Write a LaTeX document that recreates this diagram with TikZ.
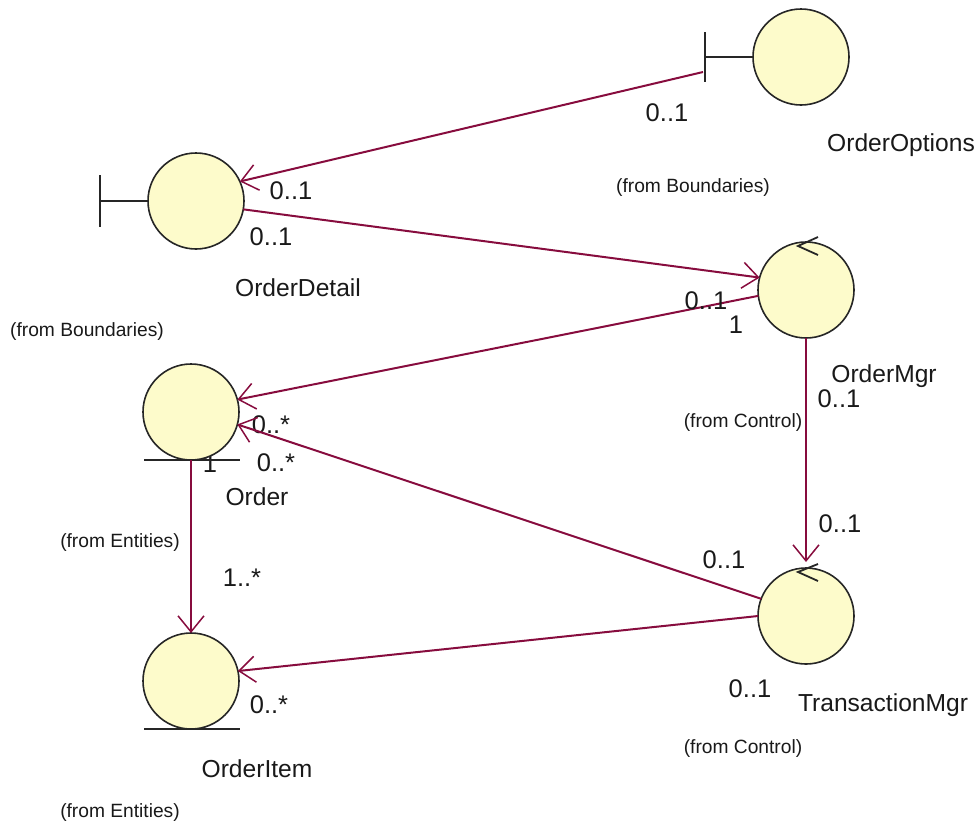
\documentclass[tikz,border=0pt]{standalone}
\usepackage{fontspec}
\setmainfont{Liberation Sans}
\usetikzlibrary{arrows.meta}
\pgfdeclarelayer{back}
\pgfsetlayers{back,main}
\definecolor{linkred}{RGB}{135,12,62}
\definecolor{bubble}{RGB}{253,251,203}
\tikzstyle{bubblenode} = [draw=black!85, fill=bubble, circle, line width=1.6pt,
    inner sep=0pt, outer sep=0pt, minimum size=96pt]
\tikzstyle{stem} = [draw=black!85, line width=1.8pt]
\tikzstyle{link} = [draw=linkred, line width=2pt]
\tikzstyle{navlink} = [link, -{Straight Barb[length=16pt,width=26pt,line width=1.5pt]}]
\tikzstyle{classname} = [font=\fontsize{24.6}{25}\selectfont, text=black!90, inner sep=0pt, yshift=-2pt]
\tikzstyle{mult} = [font=\fontsize{25.5}{25}\selectfont, text=black!90, inner sep=0pt, yshift=-1pt]
\tikzstyle{fromlabel} = [font=\fontsize{19.2}{19}\selectfont, text=black!90, inner sep=0pt, yshift=-2pt]

\begin{document}
\begin{tikzpicture}[x=1pt,y=-1pt]
    \useasboundingbox (0,0) rectangle (976,825);
    % We start by placing the bubbles
    \node [bubblenode] (options) at (801,57) {};
    \node [bubblenode] (detail) at (196,201) {};
    \node [bubblenode] (mgr) at (806,290) {};
    \node [bubblenode] (order) at (191,412) {};
    \node [bubblenode] (trans) at (806,616) {};
    \node [bubblenode] (item) at (191,681) {};

    % Boundary bars, entity underlines and control marks
    \coordinate (optbar) at (705,57);
    \coordinate (optfoot) at (703,72);
    \coordinate (detbar) at (100,201);
    \draw [stem] (options.west) -- (optbar);
    \draw [stem] (optbar) ++(0,-25) -- ++(0,50);
    \draw [stem] (detail.west) -- (detbar);
    \draw [stem] (detbar) ++(0,-26) -- ++(0,52);
    \draw [stem] (order.south) ++(-47,0) -- ++(96,0);
    \draw [stem] (item.south) ++(-47,0) -- ++(96,0);
    \draw [stem] (mgr.north) ++(12,-5) -- ++(-20,9) -- ++(20,9);
    \draw [stem] (trans.north) ++(12,-4) -- ++(-20,8) -- ++(20,9);

    % Once the nodes are placed, connecting them is easy.
    \draw [navlink] (optfoot) -- (detail.24);
    \draw [navlink] (detail.-10) -- (mgr.165);
    \draw [navlink] (mgr.187) -- (order.15);
    \draw [navlink, shorten >=6pt] (mgr.south) -- (trans.north);
    \draw [navlink] (trans.159) -- (order.-15);
    \draw [navlink] (trans.180) -- (item.12);
    \draw [navlink] (order.south) -- (item.north);

    % Multiplicities
    \node [mult] (m1) at (667,112) {0..1};
    \node [mult] (m2) at (291,190) {0..1};
    \node [mult] (m3) at (271,236) {0..1};
    \node [mult] (m4) at (706,300) {0..1};
    \node [mult] (m5) at (736,324) {1};
    \node [mult] (m6) at (839,398) {0..1};
    \node [mult] (m8) at (276,462) {0..*};
    \node [mult] (m9) at (242,577) {1..*};
    \node [mult] (m10) at (840,523) {0..1};
    \node [mult] (m11) at (724,559) {0..1};
    \node [mult] (m12) at (750,688) {0..1};
    \node [mult] (m13) at (269,704) {0..*};
    % These two sit behind the lines and the bubble
    \begin{pgfonlayer}{back}
        \node [mult] (m7) at (271,424) {0..*};
        \node [mult] (m14) at (210,463) {1};
    \end{pgfonlayer}

    % Class names
    \node [classname] (optname) at (901,143) {OrderOptions};
    \node [classname] (detname) at (298,286) {OrderDetail};
    \node [classname] (mgrname) at (884,374) {OrderMgr};
    \node [classname] (ordname) at (257,495) {Order};
    \node [classname] (trname) at (883,703) {TransactionMgr};
    \node [classname] (itname) at (257,767) {OrderItem};

    % Packages
    \node [fromlabel] (f1) at (693,186) {(from Boundaries)};
    \node [fromlabel] (f2) at (87,330) {(from Boundaries)};
    \node [fromlabel] (f3) at (743,421) {(from Control)};
    \node [fromlabel] (f4) at (120,541) {(from Entities)};
    \node [fromlabel] (f5) at (743,747) {(from Control)};
    \node [fromlabel] (f6) at (120,811) {(from Entities)};
\end{tikzpicture}
\end{document}
